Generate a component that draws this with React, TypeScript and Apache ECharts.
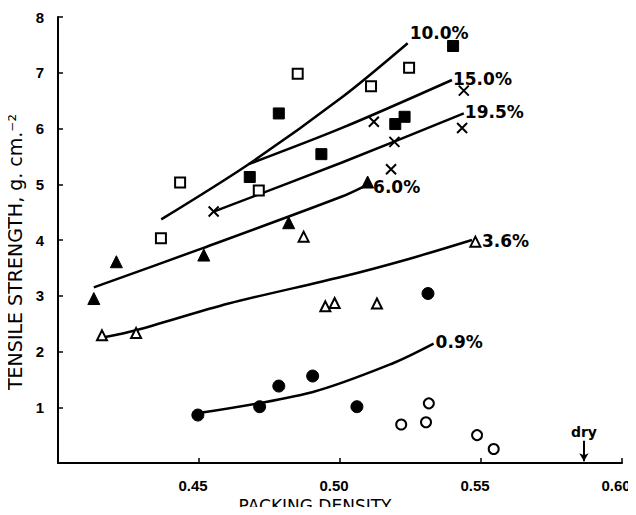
import React, { useEffect, useRef } from "react";
import * as echarts from "echarts";

// Scatter data [packing density, tensile strength]
const openSquares = [[0.4365, 4.03], [0.4433, 5.03], [0.485, 6.98], [0.4712, 4.89], [0.511, 6.76], [0.5245, 7.09]];
const filledSquares = [[0.4783, 6.27], [0.4934, 5.54], [0.468, 5.13], [0.5401, 7.48], [0.5196, 6.08], [0.5229, 6.21]];
const crosses = [[0.4552, 4.51], [0.512, 6.12], [0.5439, 6.68], [0.5433, 6.01], [0.5193, 5.76], [0.5181, 5.27]];
const filledTriangles = [[0.4127, 2.95], [0.4207, 3.61], [0.4517, 3.73], [0.4818, 4.31], [0.5098, 5.04]];
const openTriangles = [[0.4871, 4.06], [0.4156, 2.29], [0.4277, 2.33], [0.4948, 2.81], [0.4981, 2.87], [0.5131, 2.86], [0.548, 3.97]];
const filledCircles = [[0.4496, 0.86], [0.4715, 1.01], [0.4783, 1.38], [0.4903, 1.56], [0.506, 1.01], [0.5312, 3.04]];
const openCircles = [[0.5217, 0.69], [0.5305, 0.73], [0.5315, 1.07], [0.5486, 0.5], [0.5545, 0.25]];

// Fitted curves
const curve10 = [[0.4366, 4.37], [0.4676, 5.36], [0.5007, 6.56], [0.524, 7.53]];
const curve15 = [[0.4676, 5.36], [0.5007, 6.01], [0.5397, 6.87]];
const curve195 = [[0.4552, 4.51], [0.5007, 5.39], [0.5439, 6.27]];
const curve6 = [[0.4127, 3.15], [0.4511, 3.85], [0.5007, 4.78], [0.5096, 4.99]];
const curve36 = [[0.4168, 2.26], [0.4277, 2.38], [0.4605, 2.86], [0.5007, 3.34], [0.5244, 3.66], [0.5468, 4.0]];
const curve09 = [[0.4505, 0.9], [0.4901, 1.27], [0.5184, 1.78], [0.5332, 2.14]];

const curveLabels = ["10.0%", "15.0%", "19.5%", "6.0%", "3.6%", "0.9%"];
const dryX = 0.5865;

const xTicks = [0.4, 0.45, 0.5, 0.55, 0.6];
const yTicks = [0, 1, 2, 3, 4, 5, 6, 7, 8];

const labelFont = {
  fontFamily: "DejaVu Sans",
  fontWeight: "bold" as const,
  fontSize: 17,
  color: "#000",
};

function curveSeries(data: number[][], label: string, distance: number, offset: number[]) {
  return {
    type: "line",
    data,
    smooth: 0.3,
    showSymbol: false,
    symbol: "none",
    lineStyle: { color: "#000", width: 2.5 },
    z: 2,
    silent: true,
    endLabel: {
      show: true,
      formatter: label,
      distance,
      offset,
      ...labelFont,
    },
  };
}

function scatter(data: number[][], symbol: string, size: number, fill: string, border: number) {
  return {
    type: "scatter",
    data,
    symbol,
    symbolSize: size,
    itemStyle: { color: fill, borderColor: "#000", borderWidth: border, opacity: 1 },
    z: 3,
    silent: true,
  };
}

export default function App() {
  const ref = useRef<HTMLDivElement>(null);
  useEffect(() => {
    if (!ref.current) return;
    const chart = echarts.init(ref.current, null, { renderer: "svg" });
    chart.setOption({
      animation: false,
      backgroundColor: "#fff",
      grid: { left: 58, right: 14, top: 17, bottom: 52, containLabel: false, outerBoundsMode: "none" },
      xAxis: {
        type: "value",
        min: xTicks[0],
        max: xTicks[xTicks.length - 1],
        interval: 0.05,
        name: "PACKING DENSITY",
        nameLocation: "middle",
        nameGap: 36,
        nameTextStyle: {
          fontFamily: "DejaVu Sans",
          fontSize: 17,
          lineHeight: 14,
          color: "#000",
          padding: [0, 50, 0, 0],
        },
        axisLine: { lineStyle: { color: "#000", width: 2 } },
        axisTick: { inside: true, length: 5, lineStyle: { color: "#000", width: 1.5 } },
        axisLabel: {
          formatter: (v: number) => (Math.abs(v - 0.4) < 1e-6 ? "" : v.toFixed(2)),
          fontFamily: "Liberation Sans",
          fontWeight: "bold",
          fontSize: 15,
          color: "#000",
          margin: 15,
          padding: [0, 12, 0, 0],
        },
        splitLine: { show: false },
      },
      yAxis: {
        type: "value",
        min: yTicks[0],
        max: yTicks[yTicks.length - 1],
        interval: 1,
        name: "TENSILE STRENGTH, g. cm.⁻²",
        nameLocation: "middle",
        nameGap: 27,
        nameRotate: 90,
        nameTextStyle: {
          fontFamily: "DejaVu Sans",
          fontSize: 19,
          color: "#000",
          padding: [0, 24, 0, 0],
        },
        axisLine: { lineStyle: { color: "#000", width: 2 } },
        axisTick: { inside: true, length: 5, lineStyle: { color: "#000", width: 1.5 } },
        axisLabel: {
          formatter: (v: number) => (v === 0 ? "" : String(v)),
          fontFamily: "Liberation Sans",
          fontWeight: "bold",
          fontSize: 15,
          color: "#000",
          margin: 14,
        },
        splitLine: { show: false },
      },
      series: [
        curveSeries(curve10, curveLabels[0], 2, [0, -10]),
        curveSeries(curve15, curveLabels[1], 1, [0, -1]),
        curveSeries(curve195, curveLabels[2], 1, [0, -1]),
        curveSeries(curve6, curveLabels[3], 6, [0, 2]),
        curveSeries(curve36, curveLabels[4], 10, [0, 1]),
        curveSeries(curve09, curveLabels[5], 2, [0, -2]),
        scatter(openSquares, "rect", 10, "#fff", 2),
        scatter(filledSquares, "rect", 11, "#000", 1),
        scatter(crosses, "path://M0,0L10,10M10,0L0,10", 10, "#000", 2),
        scatter(filledTriangles, "triangle", 12, "#000", 1),
        scatter(openTriangles, "triangle", 10, "#fff", 2),
        scatter(filledCircles, "circle", 12, "#000", 1),
        scatter(openCircles, "circle", 10, "#fff", 2),
        {
          type: "line",
          data: [],
          silent: true,
          markLine: {
            silent: true,
            symbol: ["none", "arrow"],
            symbolSize: [7, 8],
            lineStyle: { color: "#000", width: 2, type: "solid" },
            label: {
              show: true,
              position: "start",
              formatter: "dry",
              fontFamily: "DejaVu Sans",
              fontWeight: "bold",
              fontSize: 14,
              color: "#000",
              distance: 2,
            },
            data: [[{ coord: [dryX, 0.4] }, { coord: [dryX, 0.03] }]],
          },
        },
      ],
    });
    return () => chart.dispose();
  }, []);
  return <div ref={ref} style={{ width: 636, height: 515, margin: -8 }} />;
}
